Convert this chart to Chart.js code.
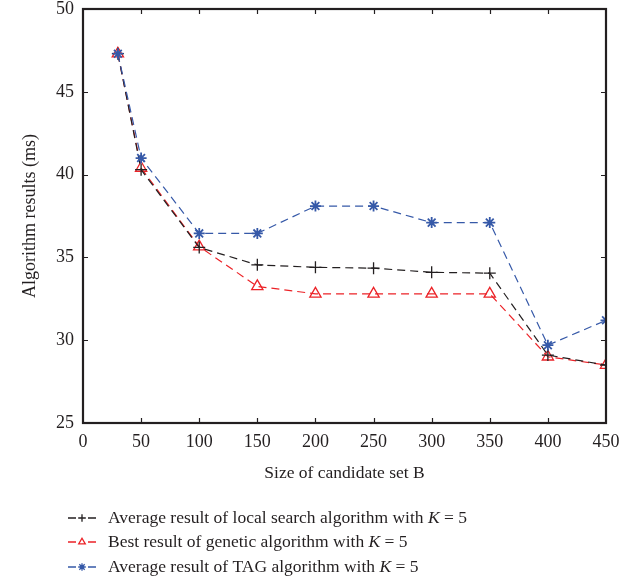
<!DOCTYPE html>
<html>
<head>
<meta charset="utf-8">
<script src="https://cdn.jsdelivr.net/npm/chart.js@4/dist/chart.umd.min.js"></script>
<style>
  html, body { margin: 0; padding: 0; background: #fff; }
  #wrap { width: 633px; height: 586px; position: relative; }
</style>
</head>
<body>
<div id="wrap"><canvas id="chart"></canvas></div>
<script>
// candidate set sizes
const sizes = [30, 50, 100, 150, 200, 250, 300, 350, 400, 450];
// algorithm results (ms)
const localSearch = [47.3, 40.3, 35.6, 34.55, 34.4, 34.35, 34.1, 34.05, 29.1, 28.5];
const genetic = [47.3, 40.4, 35.65, 33.25, 32.8, 32.8, 32.8, 32.8, 29.0, 28.5];
const tag = [47.3, 41.0, 36.45, 36.45, 38.1, 38.1, 37.1, 37.1, 29.7, 31.2];

const xTicks = [0, 50, 100, 150, 200, 250, 300, 350, 400, 450];
const yTicks = [25, 30, 35, 40, 45, 50];

const seriesNames = [
  'Average result of local search algorithm with ',
  'Best result of genetic algorithm with ',
  'Average result of TAG algorithm with '
];

const BLACK = '#231f20';
const RED = '#ec2227';
const BLUE = '#3659a8';
const FONT = "'Liberation Serif', 'DejaVu Serif', serif";

const toPoints = vals => sizes.map((x, i) => ({ x: x, y: vals[i] }));

// box frame plus inward ticks on all four sides
const frame = {
  id: 'frame',
  afterDatasetsDraw(chart) {
    const { ctx, chartArea: a, scales } = chart;
    ctx.save();
    ctx.strokeStyle = BLACK;
    ctx.lineWidth = 1.2;
    ctx.beginPath();
    xTicks.slice(1, -1).forEach(v => {
      const px = Math.round(scales.x.getPixelForValue(v)) + 0.5;
      ctx.moveTo(px, a.bottom); ctx.lineTo(px, a.bottom - 5);
      ctx.moveTo(px, a.top); ctx.lineTo(px, a.top + 5);
    });
    yTicks.slice(1, -1).forEach(v => {
      const py = Math.round(scales.y.getPixelForValue(v)) + 0.5;
      ctx.moveTo(a.left, py); ctx.lineTo(a.left + 5, py);
      ctx.moveTo(a.right, py); ctx.lineTo(a.right - 5, py);
    });
    ctx.stroke();
    ctx.lineWidth = 2.2;
    ctx.strokeRect(a.left, a.top, a.right - a.left, a.bottom - a.top);
    ctx.restore();
  }
};

// legend under the axis title: dash, marker, dash, then the label
const legendBox = {
  id: 'legendBox',
  afterDraw(chart) {
    const { ctx } = chart;
    const rows = [518, 542, 567];
    ctx.save();
    chart.data.datasets.forEach((ds, i) => {
      const y = rows[i];
      ctx.strokeStyle = ds.borderColor;
      ctx.lineWidth = 1.3;
      ctx.beginPath();
      ctx.moveTo(68, y); ctx.lineTo(76, y);
      ctx.moveTo(88, y); ctx.lineTo(96, y);
      ctx.stroke();
      ctx.fillStyle = ds.backgroundColor;
      Chart.helpers.drawPoint(ctx, {
        pointStyle: ds.pointStyle,
        radius: 3.8,
        borderWidth: ds.pointBorderWidth,
        rotation: 0
      }, 82, y);
      if (ds.pointStyle === 'star') {
        ctx.fillStyle = ds.borderColor;
        ctx.beginPath(); ctx.arc(82, y, 2, 0, Math.PI * 2); ctx.fill();
      }

      ctx.fillStyle = BLACK;
      ctx.textBaseline = 'middle';
      ctx.font = '17.5px ' + FONT;
      let x = 108;
      ctx.fillText(seriesNames[i], x, y);
      x += ctx.measureText(seriesNames[i]).width;
      ctx.font = 'italic 17.5px ' + FONT;
      ctx.fillText('K', x, y);
      x += ctx.measureText('K').width;
      ctx.font = '17.5px ' + FONT;
      ctx.fillText(' = 5', x, y);
    });
    ctx.restore();
  }
};

new Chart(document.getElementById('chart'), {
  type: 'line',
  data: {
    datasets: [
      {
        label: seriesNames[0] + 'K = 5',
        data: toPoints(localSearch),
        borderColor: BLACK,
        backgroundColor: BLACK,
        borderDash: [8, 5],
        borderWidth: 1.2,
        pointStyle: 'cross',
        pointRadius: 6,
        pointBorderWidth: 1.3,
        order: 2
      },
      {
        label: seriesNames[1] + 'K = 5',
        data: toPoints(genetic),
        borderColor: RED,
        backgroundColor: 'rgba(255,255,255,0)',
        borderDash: [8, 5],
        borderWidth: 1.2,
        pointStyle: 'triangle',
        pointRadius: 6.5,
        pointBorderWidth: 1.3,
        order: 3
      },
      {
        label: seriesNames[2] + 'K = 5',
        data: toPoints(tag),
        borderColor: BLUE,
        backgroundColor: BLUE,
        borderDash: [8, 5],
        borderWidth: 1.2,
        pointStyle: 'star',
        pointRadius: 5.5,
        pointBorderWidth: 1.8,
        order: 1
      }
    ]
  },
  options: {
    responsive: true,
    maintainAspectRatio: false,
    animation: false,
    layout: { padding: { top: 1, right: 27, bottom: 102, left: 0 } },
    plugins: {
      legend: { display: false },
      tooltip: { enabled: false }
    },
    scales: {
      x: {
        type: 'linear',
        min: 0,
        max: 450,
        afterFit: scale => { scale.height = 61; },
        afterBuildTicks: scale => { scale.ticks = xTicks.map(v => ({ value: v })); },
        grid: { display: false, drawTicks: false },
        border: { display: false },
        ticks: { color: BLACK, padding: 8, font: { family: FONT, size: 18 } },
        title: {
          display: true,
          text: 'Size of candidate set B',
          color: BLACK,
          padding: 0,
          font: { family: FONT, size: 17.5 }
        }
      },
      y: {
        min: 25,
        max: 50,
        afterFit: scale => {
          scale.width = 83;
          scale.paddingTop = 9;
          scale.paddingBottom = 0;
        },
        afterBuildTicks: scale => { scale.ticks = yTicks.map(v => ({ value: v })); },
        grid: { display: false, drawTicks: false },
        border: { display: false },
        ticks: { color: BLACK, padding: 9, font: { family: FONT, size: 18 } },
        title: {
          display: true,
          text: 'Algorithm results (ms)',
          color: BLACK,
          padding: { top: 19, bottom: 0 },
          font: { family: FONT, size: 18 }
        }
      }
    }
  },
  plugins: [frame, legendBox]
});
</script>
</body>
</html>
